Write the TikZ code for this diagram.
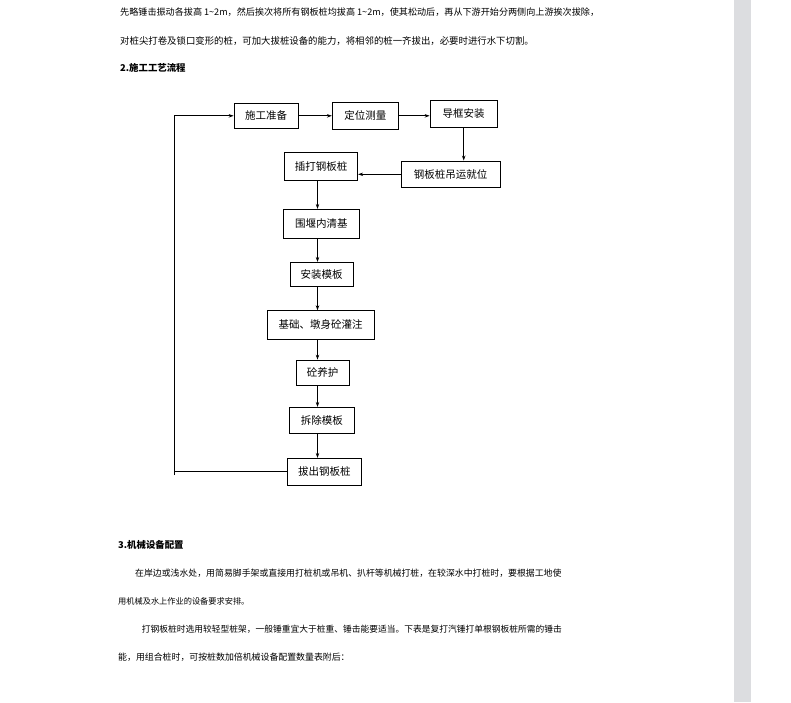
\documentclass[tikz,border=0pt]{standalone}
\usepackage{fontspec}
\setmainfont{Noto Sans CJK SC}
\usetikzlibrary{arrows.meta}
\definecolor{barGray}{HTML}{DCDDE0}

\begin{document}
\begin{tikzpicture}[x=1pt,y=-1pt,
  flowbox/.style={draw, line width=0.8pt, inner sep=0pt, font=\fontsize{10.5}{12}\selectfont},
  flowline/.style={line width=0.8pt},
  flowarrow/.style={flowline, -{Stealth[length=5pt,width=3.5pt]}},
  bodytext/.style={anchor=west, inner sep=0pt, font=\fontsize{9.4}{11}\selectfont},
  headtext/.style={anchor=west, inner sep=0pt, font=\fontsize{9.4}{11}\selectfont\bfseries}]
  \useasboundingbox (0,0) rectangle (791,702);
  % page edge
  \fill[barGray] (734,0) rectangle (751,702);

  % Text above the chart
  \node[bodytext, font=\fontsize{9.1}{11}\selectfont] (para1) at (120,12) {先略锤击振动各拔高 1\textasciitilde 2m，然后挨次将所有钢板桩均拔高 1\textasciitilde 2m，使其松动后，再从下游开始分两侧向上游挨次拔除，};
  \node[bodytext] (para2) at (120,40.7) {对桩尖打卷及锁口变形的桩，可加大拔桩设备的能力，将相邻的桩一齐拔出，必要时进行水下切割。};
  \node[headtext] (head2) at (120,68.3) {2.施工工艺流程};

  % Boxes
  \node[flowbox, minimum width=64.3, minimum height=25] (prep) at (266.2,115.8) {施工准备};
  \node[flowbox, minimum width=66, minimum height=27] (survey) at (365.3,115.8) {定位测量};
  \node[flowbox, minimum width=67.3, minimum height=27.3] (guide) at (463.7,113.7) {导框安装};
  \node[flowbox, minimum width=99, minimum height=26.7] (hoist) at (450.5,174.3) {钢板桩吊运就位};
  \node[flowbox, minimum width=73.4, minimum height=27.7] (drive) at (321,166.2) {插打钢板桩};
  \node[flowbox, minimum width=76, minimum height=29] (clean) at (321.3,223.8) {围堰内清基};
  \node[flowbox, minimum width=63.3, minimum height=24.4] (form) at (321.7,274.5) {安装模板};
  \node[flowbox, minimum width=106.7, minimum height=28.6] (pour) at (320.7,325) {基础、墩身砼灌注};
  \node[flowbox, minimum width=53.3, minimum height=25] (cure) at (322.7,372.5) {砼养护};
  \node[flowbox, minimum width=65, minimum height=26] (strip) at (321.8,420.3) {拆除模板};
  \node[flowbox, minimum width=74, minimum height=27] (pull) at (324.3,471.8) {拔出钢板桩};

  % Column of the vertical arrows
  \coordinate (col) at (317.5,0);
  \coordinate (loopbot) at (174.3,475);

  % Connectors
  \draw[flowarrow] (prep.east) -- (survey.west);
  \draw[flowarrow] (survey.east) -- (survey.east -| guide.west);
  \draw[flowarrow] (guide.south) -- (guide.south |- hoist.north);
  \draw[flowarrow] (hoist.west) -- (hoist.west -| drive.east);
  \draw[flowarrow] (drive.south -| col) -- (clean.north -| col);
  \draw[flowarrow] (clean.south -| col) -- (form.north -| col);
  \draw[flowarrow] (form.south -| col) -- (pour.north -| col);
  \draw[flowarrow] (pour.south -| col) -- (cure.north -| col);
  \draw[flowarrow] (cure.south -| col) -- (strip.north -| col);
  \draw[flowarrow] (strip.south -| col) -- (pull.north -| col);
  % loop back
  \draw[flowline] (pull.west) -- (pull.west -| loopbot);
  \draw[flowarrow] (loopbot) |- (prep.west);

  % Text below the chart
  \node[headtext] (head3) at (118,545) {3.机械设备配置};
  \node[bodytext, font=\fontsize{8.88}{11}\selectfont] (para3) at (135,573.3) {在岸边或浅水处，用简易脚手架或直接用打桩机或吊机、扒杆等机械打桩，在较深水中打桩时，要根据工地使};
  \node[bodytext, font=\fontsize{8.2}{11}\selectfont] (para4) at (118,601) {用机械及水上作业的设备要求安排。};
  \node[bodytext, font=\fontsize{8.75}{11}\selectfont] (para5) at (141.7,629.3) {打钢板桩时选用较轻型桩架，一般锤重宜大于桩重、锤击能要适当。下表是复打汽锤打单根钢板桩所需的锤击};
  \node[bodytext, font=\fontsize{8.9}{11}\selectfont] (para6) at (118,656.7) {能，用组合桩时，可按桩数加倍机械设备配置数量表附后：};
\end{tikzpicture}
\end{document}
